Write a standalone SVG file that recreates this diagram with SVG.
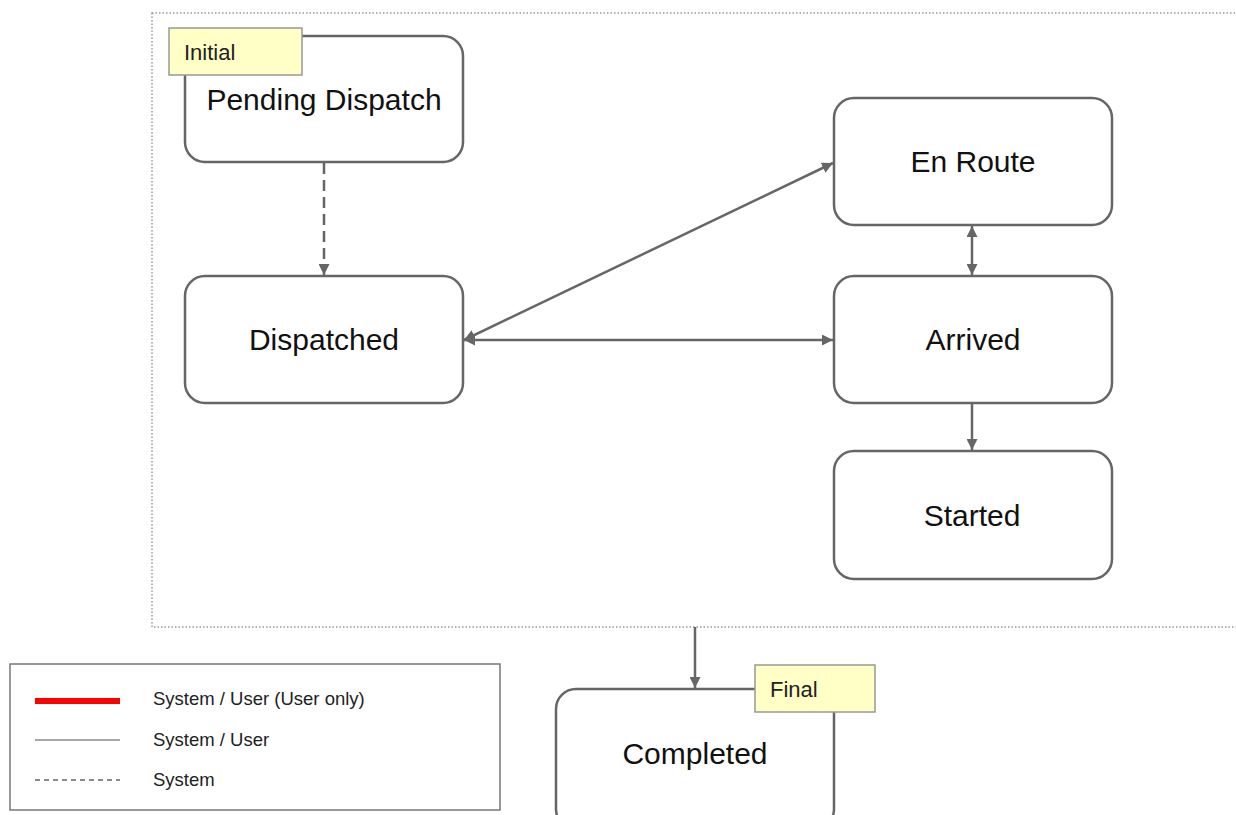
<svg xmlns="http://www.w3.org/2000/svg" width="1236" height="815" viewBox="0 0 1236 815">
<style>
.box{fill:#fff;stroke:#666;stroke-width:2.5}
.lbl{font-family:"Liberation Sans",Arial,sans-serif;font-size:30px;fill:#111;text-anchor:middle}
.tag{fill:#ffffc6;stroke:#999;stroke-width:1.5}
.tagt{font-family:"Liberation Sans",Arial,sans-serif;font-size:22px;fill:#222}
.con{stroke:#666;stroke-width:2.5;fill:none}
.leg{font-family:"Liberation Sans",Arial,sans-serif;font-size:18.5px;fill:#222}
</style>
<defs>
<marker id="ah" viewBox="0 0 10 10" refX="10" refY="5" markerWidth="4.4" markerHeight="4.4" orient="auto-start-reverse" markerUnits="strokeWidth">
<path d="M0,0 L10,5 L0,10 z" fill="#666"/>
</marker>
</defs>
<rect x="152" y="13" width="1100" height="614" fill="none" stroke="#999" stroke-width="1.5" stroke-dasharray="1.5,2"/>
<g id="connectors">
<line class="con" x1="324" y1="163" x2="324" y2="275" stroke-dasharray="11,6" marker-end="url(#ah)"/>
<line class="con" x1="464" y1="340" x2="833" y2="163" marker-start="url(#ah)" marker-end="url(#ah)"/>
<line class="con" x1="464" y1="340" x2="833" y2="340" marker-start="url(#ah)" marker-end="url(#ah)"/>
<line class="con" x1="972" y1="226" x2="972" y2="275" marker-start="url(#ah)" marker-end="url(#ah)"/>
<line class="con" x1="972" y1="404" x2="972" y2="450" marker-end="url(#ah)"/>
<line class="con" x1="695" y1="627" x2="695" y2="688" marker-end="url(#ah)"/>
</g>
<g id="pending">
<rect class="box" x="185" y="36" width="278" height="126" rx="20"/>
<text class="lbl" x="324" y="110">Pending Dispatch</text>
<rect class="tag" x="169" y="28" width="133" height="47"/>
<text class="tagt" x="184" y="60">Initial</text>
</g>
<g id="dispatched">
<rect class="box" x="185" y="276" width="278" height="127" rx="20"/>
<text class="lbl" x="324" y="350">Dispatched</text>
</g>
<g id="enroute">
<rect class="box" x="834" y="98" width="278" height="127" rx="20"/>
<text class="lbl" x="973" y="172">En Route</text>
</g>
<g id="arrived">
<rect class="box" x="834" y="276" width="278" height="127" rx="20"/>
<text class="lbl" x="973" y="350">Arrived</text>
</g>
<g id="started">
<rect class="box" x="834" y="451" width="278" height="128" rx="20"/>
<text class="lbl" x="972" y="526">Started</text>
</g>
<g id="completed">
<rect class="box" x="556" y="689" width="278" height="140" rx="20"/>
<text class="lbl" x="695" y="764">Completed</text>
<rect class="tag" x="755" y="665" width="120" height="47"/>
<text class="tagt" x="770" y="697">Final</text>
</g>
<g id="legend">
<rect x="10" y="664" width="490" height="146" fill="#fff" stroke="#777" stroke-width="1.5"/>
<line x1="35" y1="701" x2="120" y2="701" stroke="#f00" stroke-width="6"/>
<line x1="35" y1="740" x2="120" y2="740" stroke="#888" stroke-width="1.5"/>
<line x1="35" y1="780" x2="120" y2="780" stroke="#666" stroke-width="1.5" stroke-dasharray="5,4"/>
<text class="leg" x="153" y="705">System / User (User only)</text>
<text class="leg" x="153" y="746">System / User</text>
<text class="leg" x="153" y="786">System</text>
</g>
</svg>
